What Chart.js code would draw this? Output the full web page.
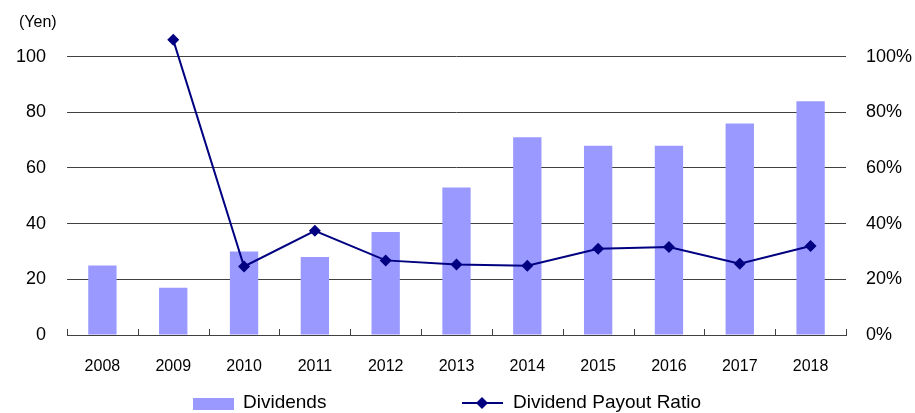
<!DOCTYPE html>
<html>
<head>
<meta charset="utf-8">
<script src="https://cdn.jsdelivr.net/npm/chart.js@4.4.1/dist/chart.umd.min.js"></script>
<style>
  html, body { margin: 0; padding: 0; background: #fff; }
  #wrap { width: 915px; height: 413px; position: relative; }
</style>
</head>
<body>
<div id="wrap"><canvas id="c" width="915" height="413"></canvas></div>
<script>
const categories = ['2008','2009','2010','2011','2012','2013','2014','2015','2016','2017','2018'];
const dividends = [25, 17, 30, 28, 37, 53, 71, 68, 68, 76, 84];
const payoutRatio = [null, 106, 24.6, 37.4, 26.8, 25.3, 24.9, 31, 31.6, 25.6, 32];
const leftTicks = [0, 20, 40, 60, 80, 100];
const rightTicks = [0, 20, 40, 60, 80, 100];
const leftUnit = '(Yen)';
const seriesNames = ['Dividends', 'Dividend Payout Ratio'];

const FONT = '"Liberation Sans", Arial, sans-serif';
const BAR_COLOR = '#9999FF';
const LINE_COLOR = '#000080';
const AXIS_COLOR = '#404040';
// headroom above the 100 gridline so the 2009 marker stays inside the plot
const SCALE_MAX = 108.9;

const extras = {
  id: 'extras',
  afterDraw(chart) {
    const ctx = chart.ctx;
    const x = chart.scales.x;
    const area = chart.chartArea;
    ctx.save();
    ctx.strokeStyle = AXIS_COLOR;
    ctx.lineWidth = 1;
    const n = categories.length;
    const step = (x.getPixelForValue(1) - x.getPixelForValue(0));
    for (let i = 0; i <= n; i++) {
      const px = Math.round(x.getPixelForValue(0) - step / 2 + i * step) + 0.5;
      ctx.beginPath();
      ctx.moveTo(px, Math.round(area.bottom) - 6);
      ctx.lineTo(px, Math.round(area.bottom) + 0.5);
      ctx.stroke();
    }
    ctx.fillStyle = '#000';
    ctx.font = '16px ' + FONT;
    ctx.textAlign = 'left';
    ctx.textBaseline = 'middle';
    ctx.fillText(leftUnit, 19, 23);
    const ly = 403;
    ctx.font = '19px ' + FONT;
    ctx.fillStyle = BAR_COLOR;
    ctx.fillRect(193, 398, 41, 12);
    ctx.fillStyle = '#000';
    ctx.fillText(seriesNames[0], 243, ly);
    ctx.strokeStyle = LINE_COLOR;
    ctx.lineWidth = 2;
    ctx.beginPath();
    ctx.moveTo(462, ly);
    ctx.lineTo(503, ly);
    ctx.stroke();
    ctx.fillStyle = LINE_COLOR;
    ctx.beginPath();
    ctx.moveTo(482, ly - 6);
    ctx.lineTo(488, ly);
    ctx.lineTo(482, ly + 6);
    ctx.lineTo(476, ly);
    ctx.closePath();
    ctx.fill();
    ctx.fillStyle = '#000';
    ctx.fillText(seriesNames[1], 513, ly);
    ctx.restore();
  }
};

new Chart(document.getElementById('c'), {
  data: {
    labels: categories,
    datasets: [
      {
        type: 'line',
        label: seriesNames[1],
        data: payoutRatio,
        yAxisID: 'y1',
        borderColor: LINE_COLOR,
        backgroundColor: LINE_COLOR,
        borderWidth: 2,
        pointStyle: 'rectRot',
        pointRadius: 6,
        pointHoverRadius: 6,
        pointBorderWidth: 0,
        tension: 0,
        spanGaps: false,
        order: 0
      },
      {
        type: 'bar',
        label: seriesNames[0],
        data: dividends,
        yAxisID: 'y',
        backgroundColor: BAR_COLOR,
        borderWidth: 0,
        barPercentage: 0.4,
        categoryPercentage: 1.0,
        order: 1
      }
    ]
  },
  options: {
    responsive: false,
    animation: false,
    devicePixelRatio: 1,
    layout: { padding: { top: 30, left: 0, right: 0, bottom: 38 } },
    plugins: {
      legend: { display: false },
      tooltip: { enabled: false },
      title: { display: false }
    },
    scales: {
      x: {
        type: 'category',
        offset: true,
        grid: { display: false },
        border: { display: true, color: AXIS_COLOR, width: 1 },
        ticks: { color: '#000', font: { family: FONT, size: 16 }, padding: 14, maxRotation: 0 },
        afterFit(s) { s.height = 40; }
      },
      y: {
        type: 'linear',
        position: 'left',
        min: 0,
        max: SCALE_MAX,
        afterBuildTicks(s) { s.ticks = leftTicks.map(v => ({ value: v })); },
        grid: { color: AXIS_COLOR, drawTicks: false, lineWidth: 1 },
        border: { display: false },
        ticks: { color: '#000', font: { family: FONT, size: 18 }, padding: 21 },
        afterFit(s) { s.width = 67; }
      },
      y1: {
        type: 'linear',
        position: 'right',
        min: 0,
        max: SCALE_MAX,
        afterBuildTicks(s) { s.ticks = rightTicks.map(v => ({ value: v })); },
        grid: { display: false, drawTicks: false },
        border: { display: false },
        ticks: { color: '#000', font: { family: FONT, size: 18 }, padding: 20, callback: v => v + '%' },
        afterFit(s) { s.width = 69; }
      }
    }
  },
  plugins: [extras]
});
</script>
</body>
</html>
